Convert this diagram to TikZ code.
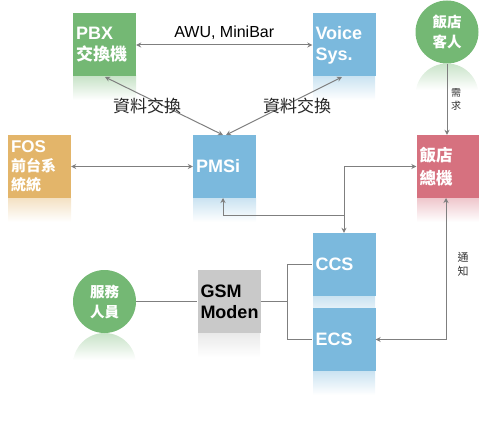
\documentclass[tikz,border=0pt]{standalone}
\usepackage{fontspec}
\setmainfont{Liberation Sans}
\newfontfamily\cjk{Noto Sans CJK TC}
\usetikzlibrary{arrows.meta}
\definecolor{cgreen}{HTML}{74B874}
\definecolor{cblue}{HTML}{7BB9DD}
\definecolor{corange}{HTML}{E3B56A}
\definecolor{cred}{HTML}{D6717F}
\definecolor{cgray}{HTML}{C9C9C9}
\definecolor{cline}{HTML}{7F7F7F}
\tikzset{
  box/.style={rectangle, minimum width=63pt, minimum height=63pt, inner xsep=3pt, inner ysep=0pt,
    text width=57pt, align=left, text=white, font=\bfseries\fontsize{18}{21}\selectfont},
  circ/.style={circle, minimum size=63pt, inner sep=0pt, text=white, align=center,
    font=\cjk\bfseries\fontsize{14.5}{20}\selectfont},
  conn/.style={draw=cline, line width=1pt},
  tip/.style={-{Stealth[length=5pt,width=5pt]}},
  dtip/.style={{Stealth[length=5pt,width=5pt]}-{Stealth[length=5pt,width=5pt]}},
  lab/.style={font=\cjk\fontsize{17}{20}\selectfont, text=black!85},
  small/.style={font=\cjk\fontsize{10}{13}\selectfont, text=black!80, align=center}
}
\newcommand{\boxrefl}[4]{% x1, y1(bottom), x2, colour, height 24
  \shade[top color=#4!40!white, bottom color=white] (#1,#2) rectangle (#3,#2+24);}
\begin{document}
\begin{tikzpicture}[x=1pt,y=-1pt]
\useasboundingbox (0,0) rectangle (479,433);
% reflections
\boxrefl{73}{76}{136}{cgreen}
\boxrefl{313}{76}{375}{cblue}
\boxrefl{8}{198}{71}{corange}
\boxrefl{193}{198}{256}{cblue}
\boxrefl{417}{198}{479}{cred}
\boxrefl{198}{333}{260}{cgray}
\shade[top color=cblue!40!white, bottom color=cblue!20!white] (313,296) rectangle (375,308);
\boxrefl{313}{371}{375}{cblue}
\begin{scope}
  \clip (447,95) circle (31.5);
  \shade[top color=cgreen!40!white, bottom color=white] (415,63) rectangle (479,90);
\end{scope}
\begin{scope}
  \clip (104.5,364.5) circle (31.5);
  \shade[top color=cgreen!40!white, bottom color=white] (73,333) rectangle (136,360);
\end{scope}
% nodes
\node[box, fill=cgreen] (pbx) at (104.5,45) {PBX\\{\cjk\fontsize{17}{21}\selectfont 交換機}};
\node[box, fill=cblue] (voice) at (344,45) {Voice\\Sys.};
\node[box, fill=corange, font=\bfseries\fontsize{15}{19}\selectfont] (fos) at (39.5,166.5) {{\fontsize{17}{19}\selectfont FOS}\\{\cjk 前台系}\\{\cjk 統統}};
\node[box, fill=cblue] (pmsi) at (224.5,166.5) {PMSi};
\node[box, fill=cred, font=\cjk\bfseries\fontsize{16.5}{23}\selectfont] (hotel) at (448,166.5) {飯店\\總機};
\node[circ, fill=cgreen] (guest) at (447,32) {飯店\\客人};
\node[box, fill=cgray, text=black] (gsm) at (229,301.5) {GSM\\Moden};
\node[circ, fill=cgreen] (staff) at (104.5,301.5) {服務\\人員};
\node[box, fill=cblue] (ccs) at (344,264.5) {CCS};
\node[box, fill=cblue] (ecs) at (344,339.5) {ECS};
% connectors
\draw[conn, dtip] (pbx.east |- 0,45) -- node[above=2pt, font=\fontsize{16}{18}\selectfont, text=black] (awu) {AWU, MiniBar} (voice.west |- 0,45);
\draw[conn, dtip] (105,77) -- (223,135);
\draw[conn, dtip] (342,77) -- (226,135);
\node[lab] (dx1) at (147,106) {資料交換};
\node[lab] (dx2) at (297,106) {資料交換};
\draw[conn, dtip] (fos.east) -- (pmsi.west);
\draw[conn, tip] (guest.south) -- (guest.south |- hotel.north);
\node[small] (need) at (456,99) {需\\求};
\coordinate (j) at (344,215);
\draw[conn, tip] (j) -| (223,198);
\draw[conn, tip] (j) |- (hotel.west);
\draw[conn, tip] (j) -- (ccs.north);
\draw[conn, dtip] (ecs.east) -| (446,198);
\node[small, font=\cjk\fontsize{11}{14}\selectfont] (notify) at (463,264) {通\\知};
\draw[conn] (staff.east) -- (gsm.west);
\coordinate (k) at (287,301.5);
\draw[conn] (gsm.east) -- (k);
\draw[conn] (k) |- (ccs.west);
\draw[conn] (k) |- (ecs.west);
\end{tikzpicture}
\end{document}
